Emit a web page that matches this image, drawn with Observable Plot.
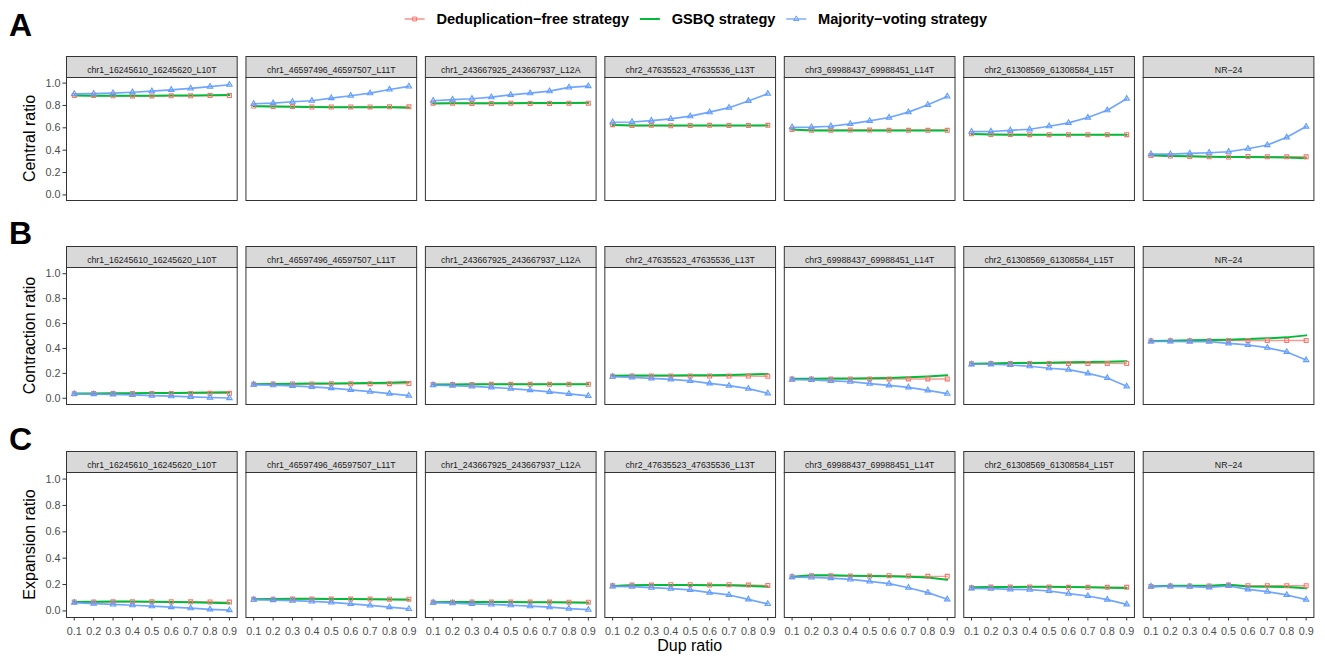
<!DOCTYPE html>
<html><head><meta charset="utf-8">
<script src="https://cdn.jsdelivr.net/npm/d3@7"></script>
<script src="https://cdn.jsdelivr.net/npm/@observablehq/plot@0.6"></script>
<style>
html,body{margin:0;padding:0;background:#fff;}
#root{position:relative;width:1325px;height:657px;overflow:hidden;font-family:"Liberation Sans",Arial,Helvetica,sans-serif;}
#root svg{position:absolute;left:0;}
</style></head><body><div id="root"></div>
<script>
const panels = ["chr1_16245610_16245620_L10T","chr1_46597496_46597507_L11T","chr1_243667925_243667937_L12A","chr2_47635523_47635536_L13T","chr3_69988437_69988451_L14T","chr2_61308569_61308584_L15T","NR−24"];
const strategies = ["Deduplication−free strategy","GSBQ strategy","Majority−voting strategy"];
const dupRatios = [0.1,0.2,0.3,0.4,0.5,0.6,0.7,0.8,0.9];
const yTicks = [0,0.2,0.4,0.6,0.8,1.0];
const rowTitles = ["Central ratio","Contraction ratio","Expansion ratio"];
const rowLetters = ["A","B","C"];
const xTitle = "Dup ratio";

// Central ratio
const centralDedup = [
 [0.89,0.888,0.886,0.885,0.885,0.886,0.886,0.888,0.889],
 [0.795,0.79,0.79,0.786,0.786,0.787,0.787,0.788,0.788],
 [0.82,0.82,0.818,0.818,0.82,0.818,0.818,0.82,0.82],
 [0.628,0.62,0.622,0.618,0.62,0.622,0.62,0.62,0.622],
 [0.586,0.578,0.578,0.58,0.58,0.578,0.578,0.578,0.578],
 [0.546,0.54,0.54,0.539,0.539,0.539,0.539,0.539,0.539],
 [0.353,0.347,0.344,0.341,0.338,0.344,0.341,0.341,0.341]];
const centralGSBQ = [
 [0.888,0.887,0.886,0.886,0.887,0.888,0.889,0.891,0.893],
 [0.794,0.79,0.789,0.786,0.785,0.785,0.784,0.783,0.779],
 [0.818,0.819,0.819,0.82,0.82,0.821,0.821,0.822,0.824],
 [0.625,0.62,0.62,0.62,0.62,0.62,0.62,0.62,0.62],
 [0.585,0.576,0.576,0.576,0.576,0.576,0.576,0.576,0.575],
 [0.545,0.54,0.538,0.537,0.537,0.537,0.537,0.537,0.537],
 [0.355,0.349,0.345,0.342,0.34,0.338,0.336,0.335,0.328]];
const centralMajority = [
 [0.903,0.906,0.911,0.918,0.928,0.94,0.952,0.968,0.985],
 [0.815,0.82,0.833,0.842,0.866,0.887,0.91,0.943,0.97],
 [0.842,0.853,0.86,0.874,0.895,0.91,0.928,0.961,0.973],
 [0.65,0.652,0.665,0.68,0.704,0.74,0.78,0.84,0.905],
 [0.605,0.606,0.614,0.635,0.662,0.692,0.74,0.806,0.88],
 [0.566,0.567,0.578,0.587,0.614,0.644,0.692,0.757,0.86],
 [0.365,0.365,0.371,0.377,0.386,0.413,0.446,0.515,0.611]];

// Contraction ratio
const contractionDedup = [
 [0.037,0.038,0.038,0.038,0.039,0.039,0.039,0.04,0.04],
 [0.113,0.114,0.115,0.115,0.116,0.116,0.117,0.117,0.118],
 [0.11,0.111,0.111,0.112,0.112,0.112,0.112,0.112,0.112],
 [0.177,0.178,0.178,0.178,0.178,0.178,0.178,0.178,0.177],
 [0.155,0.155,0.155,0.155,0.155,0.155,0.155,0.155,0.155],
 [0.278,0.279,0.28,0.28,0.28,0.28,0.28,0.28,0.279],
 [0.46,0.461,0.462,0.462,0.463,0.464,0.464,0.464,0.464]];
const contractionGSBQ = [
 [0.038,0.039,0.04,0.041,0.042,0.043,0.044,0.046,0.048],
 [0.113,0.115,0.116,0.118,0.119,0.12,0.122,0.125,0.13],
 [0.11,0.111,0.112,0.113,0.113,0.113,0.113,0.113,0.112],
 [0.181,0.182,0.183,0.183,0.184,0.185,0.187,0.19,0.195],
 [0.157,0.157,0.158,0.158,0.16,0.163,0.168,0.175,0.185],
 [0.278,0.28,0.283,0.284,0.286,0.289,0.291,0.294,0.297],
 [0.46,0.462,0.465,0.467,0.47,0.475,0.481,0.489,0.505]];
const contractionMajority = [
 [0.035,0.033,0.031,0.027,0.022,0.017,0.012,0.006,0.002],
 [0.11,0.105,0.1,0.092,0.082,0.068,0.053,0.038,0.022],
 [0.106,0.102,0.096,0.088,0.078,0.066,0.052,0.036,0.02],
 [0.173,0.168,0.16,0.152,0.139,0.12,0.101,0.077,0.04],
 [0.149,0.148,0.139,0.133,0.117,0.104,0.088,0.064,0.037],
 [0.273,0.273,0.267,0.257,0.241,0.23,0.2,0.163,0.096],
 [0.457,0.457,0.455,0.455,0.441,0.428,0.406,0.372,0.307]];

// Expansion ratio
const expansionDedup = [
 [0.068,0.068,0.069,0.07,0.069,0.069,0.069,0.068,0.067],
 [0.088,0.089,0.09,0.09,0.09,0.09,0.09,0.089,0.089],
 [0.066,0.066,0.067,0.067,0.067,0.067,0.067,0.066,0.066],
 [0.19,0.196,0.196,0.199,0.199,0.196,0.199,0.196,0.193],
 [0.26,0.267,0.267,0.264,0.264,0.267,0.264,0.262,0.262],
 [0.176,0.181,0.181,0.181,0.181,0.179,0.179,0.179,0.179],
 [0.186,0.189,0.189,0.189,0.196,0.191,0.191,0.191,0.191]];
const expansionGSBQ = [
 [0.068,0.069,0.071,0.071,0.07,0.068,0.066,0.062,0.058],
 [0.088,0.09,0.092,0.092,0.091,0.09,0.089,0.087,0.085],
 [0.066,0.067,0.068,0.068,0.067,0.066,0.065,0.063,0.061],
 [0.189,0.194,0.196,0.196,0.196,0.194,0.194,0.189,0.184],
 [0.26,0.27,0.27,0.267,0.264,0.262,0.259,0.254,0.237],
 [0.179,0.181,0.181,0.184,0.184,0.181,0.179,0.176,0.174],
 [0.186,0.191,0.191,0.191,0.199,0.186,0.184,0.181,0.171]];
const expansionMajority = [
 [0.063,0.056,0.049,0.043,0.036,0.029,0.021,0.012,0.006],
 [0.085,0.082,0.078,0.072,0.064,0.054,0.042,0.029,0.015],
 [0.063,0.059,0.054,0.049,0.043,0.036,0.028,0.018,0.009],
 [0.186,0.184,0.176,0.169,0.159,0.139,0.121,0.088,0.053],
 [0.257,0.254,0.249,0.239,0.224,0.207,0.176,0.139,0.088],
 [0.171,0.169,0.164,0.161,0.151,0.131,0.113,0.086,0.05],
 [0.186,0.186,0.184,0.179,0.189,0.164,0.146,0.121,0.086]];

const colors = ["#F8766D","#00BA38","#619CFF"];
const FONT = "'Liberation Sans', Arial, Helvetica, sans-serif";

function tidy(matrix, s) {
  const out = [];
  matrix.forEach((vals, pi) => vals.forEach((v, di) =>
    out.push({panel: panels[pi], strategy: strategies[s], dup: dupRatios[di], value: v})));
  return out;
}

const root = document.getElementById("root");

function makeRow(series, {top, plotH, marginBottom, xAxis}) {
  const [d0, d1, d2] = series.map((m, i) => tidy(m, i));
  const stripH = 21;
  const marks = [
    Plot.frame({fill: "#D9D9D9", stroke: "#333333", strokeWidth: 1, insetTop: -stripH, insetBottom: plotH}),
    Plot.text(panels, {fx: d => d, text: d => d, frameAnchor: "top", dy: -stripH / 2, fontSize: 8.75, fill: "#1A1A1A"}),
    Plot.line(d0, {fx: "panel", x: "dup", y: "value", stroke: colors[0], strokeWidth: 1.4, strokeOpacity: 0.75}),
    Plot.line(d1, {fx: "panel", x: "dup", y: "value", stroke: colors[1], strokeWidth: 2}),
    Plot.line(d2, {fx: "panel", x: "dup", y: "value", stroke: colors[2], strokeWidth: 1.7, strokeOpacity: 0.9}),
    Plot.dot(d0, {fx: "panel", x: "dup", y: "value", symbol: "square", r: 2.2, stroke: colors[0], fill: "none", strokeWidth: 1.1}),
    Plot.dot(d2, {fx: "panel", x: "dup", y: "value", symbol: "triangle", r: 2.0, stroke: colors[2], fill: "none", strokeWidth: 1.1}),
    Plot.frame({stroke: "#333333", strokeWidth: 1}),
    Plot.axisY({ticks: yTicks, tickFormat: ".1f", tickSize: 3.5, tickPadding: 2.5, fontSize: 10.8, fill: "#4D4D4D", stroke: "#333333", label: null})
  ];
  if (xAxis) marks.push(Plot.axisX({ticks: dupRatios, tickFormat: ".1f", tickSize: 3.5, tickPadding: 6, fontSize: 10.8, fill: "#4D4D4D", stroke: "#333333", label: null}));
  const chart = Plot.plot({
    width: 1325,
    height: stripH + plotH + marginBottom,
    marginTop: stripH,
    marginBottom,
    marginLeft: 66,
    marginRight: 11.6,
    style: {fontFamily: FONT, background: "transparent", overflow: "visible"},
    fx: {domain: panels, paddingInner: 0.0488, paddingOuter: 0, round: false, axis: null, label: null},
    x: {domain: [0.06, 0.94], axis: null},
    y: {domain: [-0.05, 1.05], axis: null},
    marks
  });
  chart.style.top = top + "px";
  root.appendChild(chart);
}

makeRow([centralDedup, centralGSBQ, centralMajority], {top: 56, plotH: 123, marginBottom: 1, xAxis: false});
makeRow([contractionDedup, contractionGSBQ, contractionMajority], {top: 246, plotH: 137, marginBottom: 1, xAxis: false});
makeRow([expansionDedup, expansionGSBQ, expansionMajority], {top: 451, plotH: 145, marginBottom: 40, xAxis: true});

// overlay: legend, titles, letters
const svg = d3.select(root).append("svg").attr("width", 1325).attr("height", 657)
  .style("top", "0px").style("font-family", FONT);

// legend
const lg = svg.append("g");
let lx = 0;
strategies.forEach((s, i) => {
  const k = lg.append("g").attr("transform", `translate(${lx},19)`);
  k.append("line").attr("x1", 0).attr("x2", 20).attr("y1", 0).attr("y2", 0)
    .attr("stroke", colors[i]).attr("stroke-width", i === 1 ? 2 : 1.5).attr("stroke-opacity", i === 1 ? 1 : 0.8);
  if (i === 0) k.append("path").attr("d", d3.symbol(d3.symbolSquare, Math.PI * 2.2 * 2.2)()).attr("transform", "translate(10,0)")
    .attr("fill", "none").attr("stroke", colors[0]);
  if (i === 2) k.append("path").attr("d", d3.symbol(d3.symbolTriangle, Math.PI * 2.0 * 2.0)()).attr("transform", "translate(10,0)")
    .attr("fill", "none").attr("stroke", colors[2]);
  const t = lg.append("text").attr("x", lx + 31.8).attr("y", 24.2).attr("font-size", 14.6).attr("font-weight", "bold")
    .attr("fill", "#000").text(s);
  lx = lx + 31.8 + t.node().getComputedTextLength() + 10.8;
});
const lw = lx - 10.8;
lg.attr("transform", `translate(${695.9 - lw / 2},0)`);

// row titles
const centers = [138.5, 335.5, 544.5];
rowTitles.forEach((t, i) => {
  svg.append("text").attr("transform", `translate(35,${centers[i]}) rotate(-90)`).attr("text-anchor", "middle")
    .attr("font-size", 16).attr("fill", "#000").text(t);
});
svg.append("text").attr("x", 689.7).attr("y", 651).attr("text-anchor", "middle").attr("font-size", 16).attr("fill", "#000").text(xTitle);

// letters
const letterY = [35.5, 244.3, 450.3];
rowLetters.forEach((l, i) => {
  svg.append("text").attr("x", 9).attr("y", letterY[i]).attr("font-size", 32).attr("font-weight", "bold").attr("fill", "#000").text(l);
});
</script></body></html>
